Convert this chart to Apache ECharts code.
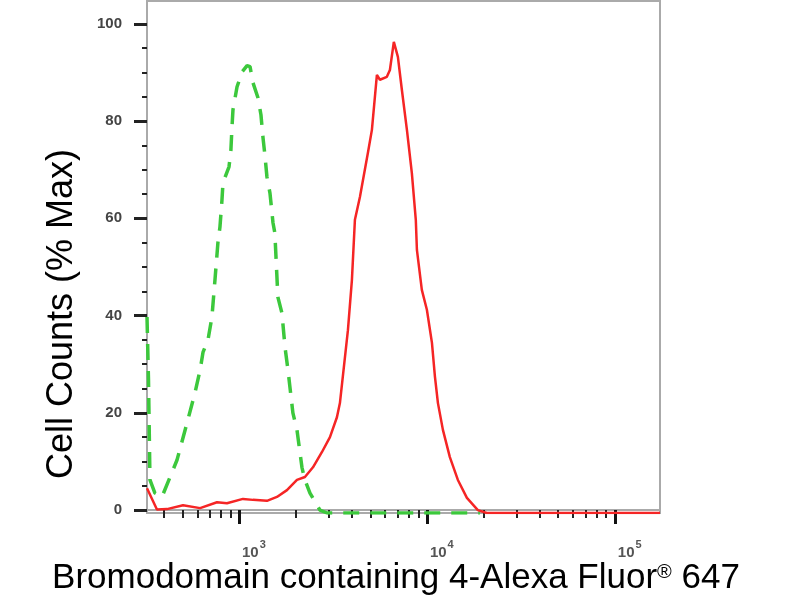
<!DOCTYPE html>
<html><head><meta charset="utf-8">
<script src="https://cdn.jsdelivr.net/npm/echarts@6/dist/echarts.min.js"></script>
<style>html,body{margin:0;padding:0;background:#fff}#c{width:800px;height:600px}</style>
</head><body><div id="c"></div>
<script>
// Red (stained) histogram
const redX = [324, 366, 414, 504, 621, 764, 863, 1050, 1187, 1409, 1592, 1800, 2035, 2244, 2476, 2761, 3049, 3321, 3445, 3800, 3990, 4140, 4402, 4855, 5098, 5420, 5623, 6125, 6356, 6670, 7010, 7362, 7830, 8318, 8730, 8850, 9400, 10000, 10640, 11040, 11450, 12170, 13250, 14620, 16330, 18670, 20840, 174000];
const redY = [4.5, 0.1, 0.2, 1.0, 0.4, 1.6, 1.4, 2.3, 2.1, 1.9, 2.7, 4.1, 6.2, 6.8, 8.8, 11.9, 15.0, 19.1, 22.0, 37.0, 47.3, 59.7, 64.4, 73.5, 78.2, 89.5, 88.5, 89.1, 90.5, 96.3, 93.2, 86.4, 78.2, 69.3, 59.7, 53.5, 45.3, 41.2, 34.4, 27.4, 22.0, 16.5, 10.9, 6.2, 2.5, 0, -0.6, -0.6];
// Green (isotype control) histogram
const greenX = [324, 330, 336, 357, 389, 430, 468, 529, 583, 621, 644, 684, 718, 745, 773, 792, 812, 822, 885, 906, 918, 929, 976, 1038, 1104, 1145, 1187, 1262, 1309, 1343, 1374, 1409, 1462, 1517, 1552, 1611, 1693, 1758, 1823, 1936, 2035, 2163, 2244, 2387, 2697, 2940, 19140];
const greenY = [39.7, 26.7, 6.2, 3.5, 2.7, 6.8, 10.3, 17.9, 24.1, 28.8, 32.5, 35.0, 39.7, 47.3, 55.1, 58.2, 63.8, 67.3, 70.6, 74.1, 78.8, 82.3, 87.0, 90.1, 91.4, 91.2, 87.9, 84.8, 81.3, 76.5, 73.0, 68.5, 65.2, 59.1, 57.0, 43.8, 40.5, 33.5, 28.8, 20.0, 16.5, 8.8, 6.2, 3.5, 0, -0.6, -0.6];

const xMajorTicks = [1000, 10000, 100000];
const xMinorTicks = [400, 500, 600, 700, 800, 900, 2000, 3000, 4000, 5000, 6000, 7000, 8000, 9000, 20000, 30000, 40000, 50000, 60000, 70000, 80000, 90000];
const yMajorTicks = [0, 20, 40, 60, 80, 100];
const yMinorTicks = [5, 10, 15, 25, 30, 35, 45, 50, 55, 65, 70, 75, 85, 90, 95];
const xTitleMain = 'Bromodomain containing 4-Alexa Fluor';
const xTitleSup = '®';
const xTitleEnd = ' 647';
const yTitle = 'Cell Counts (% Max)';

const FONT = "'Liberation Sans', Arial, sans-serif";
const X_MIN = 324, X_MAX = 174000, Y_MIN = -0.6, Y_MAX = 104.7;

const zip = (xs, ys) => xs.map((x, i) => [x, ys[i]]);
const chart = echarts.init(document.getElementById('c'), null, {renderer: 'canvas'});

const baseX = {type: 'log', logBase: 10, min: X_MIN, max: X_MAX, gridIndex: 0, position: 'bottom', splitLine: {show: false}, minorTick: {show: false}, minorSplitLine: {show: false}};
const baseY = {type: 'value', min: Y_MIN, max: Y_MAX, gridIndex: 0, position: 'left', splitLine: {show: false}};

chart.setOption({
  animation: false,
  backgroundColor: '#fff',
  grid: {left: 147, right: 140, top: 1, bottom: 87, show: true, borderColor: '#aaa', borderWidth: 2, backgroundColor: 'transparent'},
  xAxis: [
    Object.assign({}, baseX, {
      axisLine: {show: true, lineStyle: {color: '#aaa', width: 2}},
      axisTick: {show: true, customValues: xMajorTicks, length: 14, lineStyle: {color: '#111', width: 3}},
      axisLabel: {show: true, customValues: xMajorTicks, margin: 24, align: 'left', padding: [0, 0, 0, 3],
        formatter: v => '{b|10}{s|' + Math.round(Math.log10(v)) + '}',
        rich: {b: {fontFamily: FONT, fontSize: 15, color: '#555', fontWeight: 'bold', padding: [8, 0, 0, 0]},
               s: {fontFamily: FONT, fontSize: 11, color: '#555', fontWeight: 'bold', padding: [0, 0, 8, 1]}}}
    }),
    Object.assign({}, baseX, {
      axisLine: {show: false},
      axisTick: {show: true, customValues: xMinorTicks, length: 8, lineStyle: {color: '#222', width: 2}},
      axisLabel: {show: false}
    })
  ],
  yAxis: [
    Object.assign({}, baseY, {
      axisLine: {show: true, lineStyle: {color: '#aaa', width: 2}},
      axisTick: {show: true, customValues: yMajorTicks, length: 13, lineStyle: {color: '#222', width: 3}},
      axisLabel: {show: true, customValues: yMajorTicks, margin: 25, fontFamily: FONT, fontSize: 15, color: '#444', fontWeight: 'bold'}
    }),
    Object.assign({}, baseY, {
      axisLine: {show: false},
      axisTick: {show: true, customValues: yMinorTicks, length: 5, lineStyle: {color: '#222', width: 2}},
      axisLabel: {show: false}
    })
  ],
  series: [
    {type: 'line', name: 'control', xAxisIndex: 0, yAxisIndex: 0, data: zip(greenX, greenY), showSymbol: false, symbol: 'none',
      lineStyle: {color: '#3cc83c', width: 3.5, type: [16, 11], cap: 'butt'}, z: 3},
    {type: 'line', name: 'stained', xAxisIndex: 0, yAxisIndex: 0, data: zip(redX, redY), showSymbol: false, symbol: 'none',
      lineStyle: {color: '#f52525', width: 2.5}, z: 4}
  ],
  graphic: [
    {type: 'text', x: 396, y: 578, style: {text: xTitleMain + '{sup|' + xTitleSup + '}' + xTitleEnd, font: '35px ' + FONT, fill: '#000', align: 'center', verticalAlign: 'middle',
      rich: {sup: {fontSize: 20, fontFamily: FONT, fill: '#000', padding: [0, 0, 12, 0]}}}},
    {type: 'text', x: 62, y: 314, rotation: Math.PI / 2, style: {text: yTitle, font: '36px ' + FONT, fill: '#000', align: 'center', verticalAlign: 'middle'}}
  ]
});
</script>
</body></html>
